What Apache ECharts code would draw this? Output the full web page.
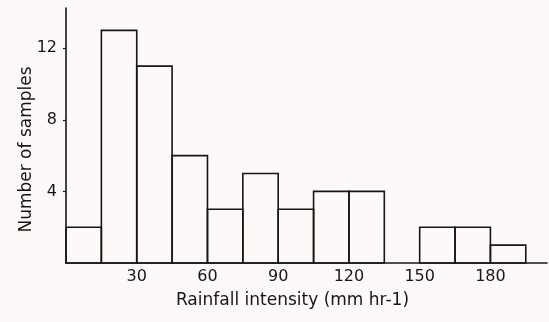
<!DOCTYPE html>
<html>
<head>
<meta charset="utf-8">
<script src="https://cdn.jsdelivr.net/npm/echarts@6/dist/echarts.min.js"></script>
<style>
  html, body { margin: 0; padding: 0; background: #fcf9f8; }
  #chart { width: 549px; height: 322px; }
</style>
</head>
<body>
<div id="chart"></div>
<script>
// Histogram bins (mm hr-1): lower edge of each 15-wide class and its sample count
const binStarts = [0, 15, 30, 45, 60, 75, 90, 105, 120, 135, 150, 165, 180];
const binWidth = 15;
const counts = [2, 13, 11, 6, 3, 5, 3, 4, 4, 0, 2, 2, 1];
const xTicks = [30, 60, 90, 120, 150, 180];
const yTicks = [4, 8, 12];

const ink = '#1c1414';
const font = 'DejaVu Sans';

const data = binStarts.map((s, i) => [s, s + binWidth, counts[i]]);

const chart = echarts.init(document.getElementById('chart'), null, { renderer: 'canvas' });
chart.setOption({
  backgroundColor: '#fcf9f8',
  animation: false,
  grid: { left: 66, right: 2, top: 8, bottom: 59 },
  xAxis: {
    type: 'value',
    min: 0,
    max: 204,
    interval: 30,
    name: 'Rainfall intensity (mm hr-1)',
    nameLocation: 'middle',
    nameGap: 29,
    nameTextStyle: { color: ink, fontFamily: font, fontSize: 17, padding: [0, 28, 0, 0] },
    axisLine: { show: true, lineStyle: { color: ink, width: 1.6 } },
    axisTick: { show: false },
    splitLine: { show: false },
    axisLabel: {
      color: ink, fontFamily: font, fontSize: 16, margin: 6,
      customValues: xTicks
    }
  },
  yAxis: {
    type: 'value',
    min: 0,
    max: 14.25,
    interval: 4,
    name: 'Number of samples',
    nameLocation: 'middle',
    nameGap: 31,
    nameMoveOverlap: false,
    nameTextStyle: { color: ink, fontFamily: font, fontSize: 17, padding: [0, 28, 0, 0] },
    axisLine: { show: true, lineStyle: { color: ink, width: 1.6 } },
    axisTick: { show: true, length: 3, lineStyle: { color: ink, width: 1.2 }, customValues: yTicks },
    splitLine: { show: false },
    axisLabel: {
      color: ink, fontFamily: font, fontSize: 16, margin: 9,
      customValues: yTicks
    }
  },
  series: [{
    type: 'custom',
    data: data,
    encode: { x: [0, 1], y: 2 },
    renderItem: function (params, api) {
      const h = api.value(2);
      if (!h) return null;
      const p0 = api.coord([api.value(0), 0]);
      const p1 = api.coord([api.value(1), h]);
      return {
        type: 'rect',
        shape: { x: p0[0], y: p1[1], width: p1[0] - p0[0], height: p0[1] - p1[1] },
        style: { fill: 'rgba(0,0,0,0)', stroke: ink, lineWidth: 1.6 }
      };
    }
  }]
});
</script>
</body>
</html>
